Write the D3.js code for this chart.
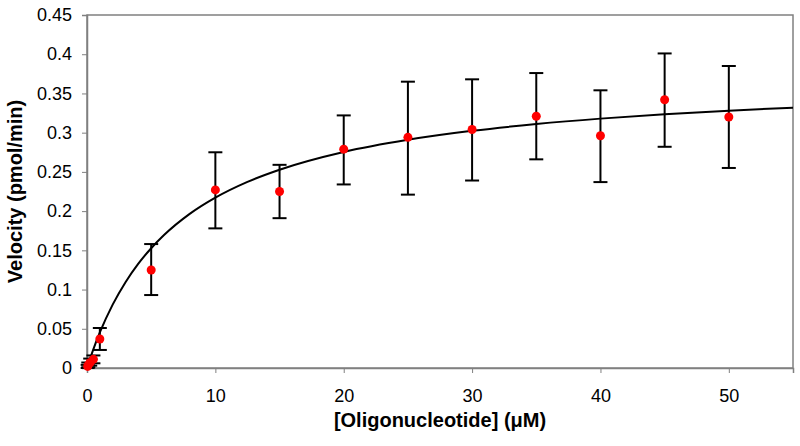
<!DOCTYPE html>
<html><head><meta charset="utf-8">
<script src="https://cdn.jsdelivr.net/npm/d3@7"></script>
<style>body{margin:0;background:#fff}svg{display:block}</style>
</head><body><svg id="c" width="800" height="446"></svg>
<script>
// Data
const concentration = [0.05, 0.1, 0.25, 0.5, 1, 5, 10, 15, 20, 25, 30, 35, 40, 45, 50];
const velocity      = [0.002, 0.004, 0.007, 0.011, 0.037, 0.125, 0.227, 0.225, 0.279, 0.294, 0.304, 0.321, 0.296, 0.342, 0.320];
const errUpper      = [0.004, 0.007, 0.012, 0.016, 0.051, 0.158, 0.275, 0.259, 0.322, 0.365, 0.368, 0.376, 0.354, 0.401, 0.385];
const errLower      = [0.000, 0.001, 0.003, 0.006, 0.023, 0.093, 0.178, 0.191, 0.234, 0.221, 0.239, 0.266, 0.237, 0.282, 0.255];
// fitted curve
const fitX = [0, 0.5, 1, 2, 3, 4, 5, 6, 8, 10, 12.5, 15, 20, 25, 30, 35, 40, 45, 50, 55];
const fitY = [0, 0.0241, 0.0453, 0.0808, 0.1094, 0.1330, 0.1527, 0.1695, 0.1965, 0.2172, 0.2373, 0.2528, 0.2754, 0.2909, 0.3023, 0.3110, 0.3179, 0.3235, 0.3280, 0.3319];
const xTicks = [0, 10, 20, 30, 40, 50];
const yTicks = [0, 0.05, 0.1, 0.15, 0.2, 0.25, 0.3, 0.35, 0.4, 0.45];
const xTitle = "[Oligonucleotide] (\u03bcM)";
const yTitle = "Velocity (pmol/min)";

const svg = d3.select("#c");
const L = 87, R = 793, T = 15, B = 368;
const x = d3.scaleLinear().domain([0, 55]).range([L, R]);
const y = d3.scaleLinear().domain([0, 0.45]).range([B, T]);
const font = "'Liberation Sans', Arial, sans-serif";

// plot frame
svg.append("rect").attr("x", L).attr("y", T).attr("width", R - L).attr("height", B - T)
  .attr("fill", "none").attr("stroke", "#808080").attr("stroke-width", 1.5);

const yAxis = svg.append("g").attr("transform", `translate(${L},0)`)
  .call(d3.axisLeft(y).tickValues(yTicks).tickSize(5).tickPadding(10).tickFormat(d => d3.format("~g")(+d.toFixed(2))));
const xAxis = svg.append("g").attr("transform", `translate(0,${B})`)
  .call(d3.axisBottom(x).tickValues(xTicks).tickSize(5).tickPadding(16).tickFormat(d3.format("d")));
[xAxis, yAxis].forEach(g => {
  g.select(".domain").attr("stroke", "#808080").attr("stroke-width", 1.5);
  g.selectAll(".tick line").attr("stroke", "#808080").attr("stroke-width", 1);
  g.selectAll(".tick text").attr("font-family", font).attr("font-size", 18).attr("fill", "#000");
});

// fitted curve
const line = d3.line().x((d, i) => x(fitX[i])).y((d, i) => y(fitY[i])).curve(d3.curveMonotoneX);
svg.append("path").datum(fitX).attr("d", line).attr("fill", "none").attr("stroke", "#000").attr("stroke-width", 2);

// error bars
const eb = svg.append("g").attr("stroke", "#000").attr("stroke-width", 2);
concentration.forEach((c, i) => {
  const cx = x(c);
  eb.append("line").attr("x1", cx).attr("x2", cx).attr("y1", y(errUpper[i])).attr("y2", y(errLower[i]));
  eb.append("line").attr("x1", cx - 7).attr("x2", cx + 7).attr("y1", y(errUpper[i])).attr("y2", y(errUpper[i]));
  eb.append("line").attr("x1", cx - 7).attr("x2", cx + 7).attr("y1", y(errLower[i])).attr("y2", y(errLower[i]));
});

// points
svg.append("g").selectAll("circle").data(concentration).join("circle")
  .attr("cx", d => x(d)).attr("cy", (d, i) => y(velocity[i])).attr("r", 4.5).attr("fill", "#ff0000");

// titles
svg.append("text").attr("x", (L + R) / 2).attr("y", 427).attr("text-anchor", "middle")
  .attr("font-family", font).attr("font-size", 20).attr("font-weight", "bold").text(xTitle);
svg.append("text").attr("transform", `translate(22,${(T + B) / 2}) rotate(-90)`).attr("text-anchor", "middle")
  .attr("font-family", font).attr("font-size", 20).attr("font-weight", "bold").text(yTitle);
</script></body></html>
